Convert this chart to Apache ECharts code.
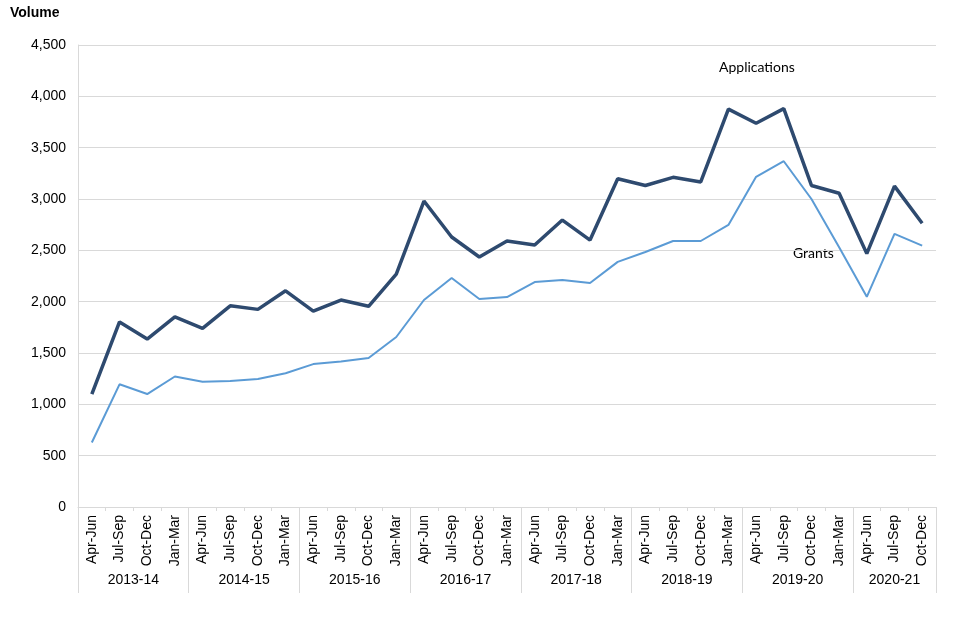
<!DOCTYPE html>
<html>
<head>
<meta charset="utf-8">
<script src="https://cdn.jsdelivr.net/npm/echarts@6/dist/echarts.min.js"></script>
<style>html,body{margin:0;padding:0;background:#fff}#c{width:960px;height:640px}</style>
</head>
<body>
<div id="c"></div>
<script>
const quarters = [
  'Apr-Jun','Jul-Sep','Oct-Dec','Jan-Mar',
  'Apr-Jun','Jul-Sep','Oct-Dec','Jan-Mar',
  'Apr-Jun','Jul-Sep','Oct-Dec','Jan-Mar',
  'Apr-Jun','Jul-Sep','Oct-Dec','Jan-Mar',
  'Apr-Jun','Jul-Sep','Oct-Dec','Jan-Mar',
  'Apr-Jun','Jul-Sep','Oct-Dec','Jan-Mar',
  'Apr-Jun','Jul-Sep','Oct-Dec','Jan-Mar',
  'Apr-Jun','Jul-Sep','Oct-Dec'
];
const years = ['2013-14','2014-15','2015-16','2016-17','2017-18','2018-19','2019-20','2020-21'];
const yearSizes = [4,4,4,4,4,4,4,3];
const applications = [
  1100,1802,1636,1852, 1740,1960,1925,2106, 1907,2016,1955,2269,
  2980,2630,2435,2591, 2552,2795,2600,3197, 3132,3211,3166,3875,
  3738,3880,3132,3056, 2468,3125,2764
];
const grants = [
  628,1195,1100,1271, 1220,1227,1247,1303, 1392,1418,1451,1656,
  2016,2230,2026,2045, 2191,2211,2182,2388, 2484,2591,2591,2747,
  3216,3368,3000,2530, 2047,2660,2546
];
const yTicks = [0,500,1000,1500,2000,2500,3000,3500,4000,4500];

// group boundaries and centres on a 0..N value scale
const bounds = [0];
const centres = [];
yearSizes.forEach(s => { const b = bounds[bounds.length-1]; centres.push(b + s/2); bounds.push(b + s); });

const chart = echarts.init(document.getElementById('c'));
const font = 'Liberation Sans, Arial, sans-serif';
chart.setOption({
  animation: false,
  backgroundColor: '#fff',
  title: {text: 'Volume', left: 5, top: 1, textStyle: {fontFamily: font, fontSize: 14, fontWeight: 'bold', color: '#000'}},
  grid: {left: 78, right: 24, top: 45, bottom: 133, containLabel: false},
  xAxis: [
    {
      type: 'category', data: quarters, boundaryGap: true,
      axisLine: {show: true, lineStyle: {color: '#D9D9D9', width: 1}},
      axisTick: {show: true, alignWithLabel: false, length: 4, lineStyle: {color: '#D9D9D9'}},
      axisLabel: {rotate: 90, interval: 0, margin: 8, fontFamily: font, fontSize: 14, color: '#000'}
    },
    {
      type: 'value', min: 0, max: quarters.length, position: 'bottom',
      axisLine: {show: false},
      splitLine: {show: false},
      axisTick: {show: true, customValues: bounds, length: 86, inside: false, lineStyle: {color: '#D9D9D9'}},
      axisLabel: {show: true, customValues: centres, margin: 66, fontFamily: font, fontSize: 14, color: '#000',
        formatter: function (v) { const i = centres.indexOf(v); return i >= 0 ? years[i] : ''; }}
    }
  ],
  yAxis: {
    type: 'value', min: 0, max: 4500, interval: 500,
    axisLine: {show: true, lineStyle: {color: '#D9D9D9'}},
    axisTick: {show: false},
    splitLine: {show: true, lineStyle: {color: '#D9D9D9', width: 1}},
    axisLabel: {margin: 12, fontFamily: font, fontSize: 14, color: '#000',
      formatter: v => v.toLocaleString('en-US')}
  },
  graphic: [
    {type: 'text', left: 719, top: 60, style: {text: 'Applications', font: '14px Lato, "Open Sans", sans-serif', fill: '#000'}},
    {type: 'text', left: 793, top: 246, style: {text: 'Grants', font: '14px Lato, "Open Sans", sans-serif', fill: '#000'}}
  ],
  series: [
    {name: 'Grants', type: 'line', data: grants, symbol: 'none', xAxisIndex: 0,
      lineStyle: {color: '#5B9BD5', width: 2}, itemStyle: {color: '#5B9BD5'}, z: 2},
    {name: 'Applications', type: 'line', data: applications, symbol: 'none', xAxisIndex: 0,
      lineStyle: {color: '#2E4A6F', width: 3.5}, itemStyle: {color: '#2E4A6F'}, z: 3}
  ]
});
</script>
</body>
</html>
